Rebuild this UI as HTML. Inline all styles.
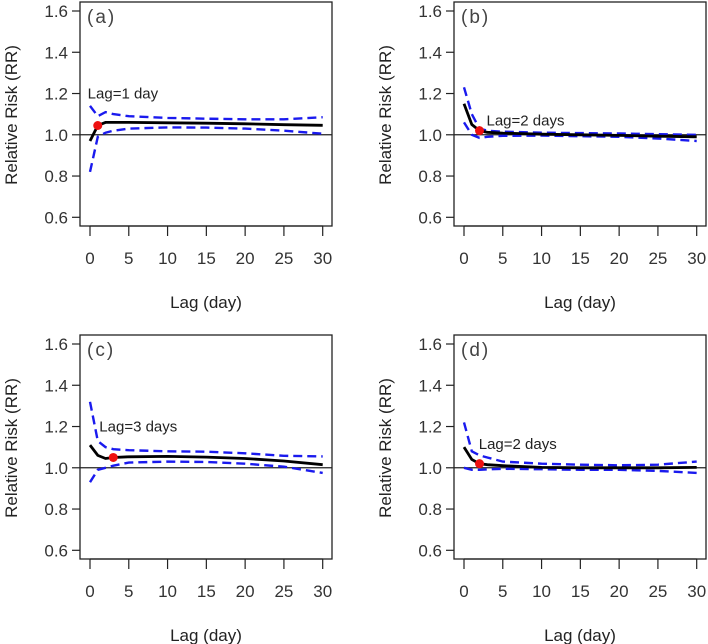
<!DOCTYPE html>
<html><head><meta charset="utf-8"><style>
html,body{margin:0;padding:0;background:#fff;}
svg{display:block;font-family:"Liberation Sans",Arial,sans-serif;}
</style></head><body>
<svg id="chart" width="708" height="644" viewBox="0 0 708 644"></svg>
<script>
const lags=[0,1,2,3,5,10,15,20,25,30];
const panelLabels=["(a)","(b)","(c)","(d)"];
const estA=[0.97,1.045,1.06,1.06,1.06,1.058,1.056,1.053,1.049,1.046];
const upA=[1.14,1.09,1.11,1.10,1.09,1.082,1.078,1.075,1.075,1.085];
const loA=[0.82,0.99,1.01,1.02,1.03,1.036,1.035,1.03,1.02,1.005];
const estB=[1.15,1.05,1.02,1.012,1.008,1.003,1.0,0.997,0.993,0.99];
const upB=[1.23,1.10,1.03,1.02,1.015,1.01,1.008,1.006,1.003,1.0];
const loB=[1.06,1.0,0.985,0.99,0.995,0.996,0.993,0.99,0.982,0.97];
const estC=[1.11,1.06,1.045,1.05,1.053,1.055,1.052,1.045,1.033,1.015];
const upC=[1.32,1.13,1.10,1.09,1.085,1.08,1.078,1.07,1.058,1.055];
const loC=[0.93,0.99,1.0,1.01,1.025,1.03,1.028,1.02,1.005,0.975];
const estD=[1.10,1.04,1.02,1.015,1.01,1.002,1.0,1.0,1.0,1.002];
const upD=[1.22,1.08,1.06,1.05,1.03,1.02,1.015,1.012,1.015,1.03];
const loD=[1.0,0.99,0.99,0.992,0.995,0.993,0.99,0.99,0.985,0.975];
const optLag=[1,2,3,2];
const optRR=[1.045,1.02,1.05,1.02];
const optText=["Lag=1 day","Lag=2 days","Lag=3 days","Lag=2 days"];
const textPos=[[-0.3,1.175],[2.9,1.045],[1.2,1.175],[1.9,1.09]];
const yTicks=[0.6,0.8,1.0,1.2,1.4,1.6];
const xTicks=[0,5,10,15,20,25,30];

const svg=document.getElementById('chart');
const NS='http://www.w3.org/2000/svg';
function mk(tag,attrs,parent){const e=document.createElementNS(NS,tag);for(const k in attrs)e.setAttribute(k,attrs[k]);(parent||svg).appendChild(e);return e;}
const series=[[estA,upA,loA],[estB,upB,loB],[estC,upC,loC],[estD,upD,loD]];
const offs=[[0,0],[374,0],[0,333],[374,333]];
series.forEach((s,i)=>{
  const ox=offs[i][0],oy=offs[i][1];
  const g=mk('g',{});
  
  
  const xs=v=>ox+90+v*(232.7/30);
  const ys=v=>oy+217.3-(v-0.6)*206.3;
  const box=mk('rect',{x:ox+80,y:oy+2,width:252,height:224,fill:'none',stroke:'#222','stroke-width':1.3},g);
  
  
  yTicks.forEach(t=>{
    mk('line',{x1:ox+72,x2:ox+80,y1:ys(t),y2:ys(t),stroke:'#222','stroke-width':1.2},g);
    const tx=mk('text',{x:ox+68,y:ys(t)+6,'text-anchor':'end','font-size':17,fill:'#333'},g);
    tx.textContent=t.toFixed(1);
    
    
  });
  mk('line',{x1:xs(0),x2:xs(30),y1:oy+226,y2:oy+226,stroke:'#222','stroke-width':1.2},g);
  xTicks.forEach(t=>{
    mk('line',{x1:xs(t),x2:xs(t),y1:oy+226,y2:oy+236,stroke:'#222','stroke-width':1.2},g);
    const tx=mk('text',{x:xs(t),y:oy+264,'text-anchor':'middle','font-size':17,fill:'#333'},g);
    tx.textContent=t;
    
    
  });
  const xt=mk('text',{x:ox+206,y:oy+308,'text-anchor':'middle','font-size':17,fill:'#222'},g);
  xt.textContent='Lag (day)';
  
  
  const yt=mk('text',{x:0,y:0,'text-anchor':'middle','font-size':17,fill:'#222',transform:`translate(${ox+17},${oy+115}) rotate(-90)`},g);
  yt.textContent='Relative Risk (RR)';
  
  
  const pl=mk('text',{x:ox+87,y:oy+23,'font-size':19,fill:'#444','letter-spacing':'2'},g);
  pl.textContent=panelLabels[i];
  
  
  mk('line',{x1:ox+80,x2:ox+332,y1:ys(1),y2:ys(1),stroke:'#222','stroke-width':1.2},g);
  const path=arr=>arr.map((v,j)=>(j?'L':'M')+xs(lags[j]).toFixed(1)+','+ys(v).toFixed(1)).join('');
  [1,2].forEach(k=>{
    const p=mk('path',{d:path(s[k]),fill:'none',stroke:'#1a1aee','stroke-width':2.4,'stroke-dasharray':'9,5'},g);
    
    
  });
  const e=mk('path',{d:path(s[0]),fill:'none',stroke:'#000','stroke-width':2.8},g);
  
  
  const c=mk('circle',{cx:xs(optLag[i]),cy:ys(optRR[i]),r:4.5,fill:'#ee1111'},g);
  
  
  const lt=mk('text',{x:xs(textPos[i][0]),y:ys(textPos[i][1]),'font-size':15,fill:'#222'},g);
  lt.textContent=optText[i];
  
  
});
</script>
</body></html>
